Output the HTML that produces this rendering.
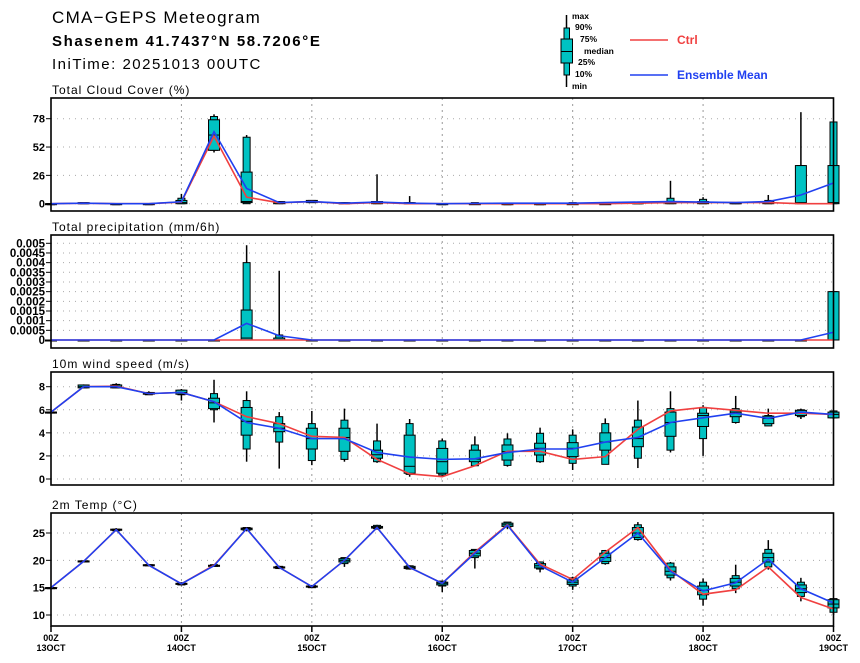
<!DOCTYPE html>
<html><head><meta charset="utf-8"><style>
html,body{margin:0;padding:0;background:#fff;}
svg{display:block;font-family:"Liberation Sans",sans-serif;}
</style></head><body>
<svg id="chart" width="860" height="663" viewBox="0 0 860 663" xmlns="http://www.w3.org/2000/svg">
<text x="52" y="23" font-size="17" letter-spacing="1.3">CMA−GEPS Meteogram</text>
<text x="52" y="46" font-size="15" font-weight="bold" letter-spacing="1.6">Shasenem 41.7437°N 58.7206°E</text>
<text x="52" y="69" font-size="15" letter-spacing="1.5">IniTime: 20251013 00UTC</text>
<g font-size="8.5" font-weight="bold">
 <line x1="566.5" y1="15" x2="566.5" y2="87" stroke="#000" stroke-width="1.5"/>
 <rect x="564" y="28" width="5.5" height="47" fill="#00c2c2" stroke="#000"/>
 <rect x="561" y="39" width="11.5" height="24" fill="#00c2c2" stroke="#000"/>
 <line x1="561" y1="51.5" x2="572.5" y2="51.5" stroke="#000"/>
 <text x="572" y="19">max</text><text x="575" y="30">90%</text><text x="580" y="42">75%</text>
 <text x="584" y="54">median</text><text x="578" y="65">25%</text><text x="575" y="77">10%</text><text x="572" y="89">min</text>
 <line x1="630" y1="40" x2="668" y2="40" stroke="#f04040" stroke-width="1.5"/>
 <text x="677" y="44" font-size="12" fill="#f04040">Ctrl</text>
 <line x1="630" y1="75" x2="668" y2="75" stroke="#2040f0" stroke-width="1.5"/>
 <text x="677" y="79" font-size="12" fill="#2040f0">Ensemble Mean</text>
</g>
</svg>
<script>
// ---- Cloud cover (%) ----
const cloudMin=[0,0,0,0,0,47,0,0,1,0,0,0,0,0,0,0,0,0,0,0,0,0,0,0,0];
const cloudP10=[0,0,0,0,0,49,0,0,1,0,0,0,0,0,0,0,0,0,0,0,0,0,0,0,0];
const cloudP25=[0,0,0,0,0,49,1,0,1,0,0,0,0,0,0,0,0,0,0,0,0,0,0,0,0];
const cloudMed=[0,0,0,0,1,63,2,1,2,0,1,0,0,0,0,0,0,0,0,1,1,0,1,1,1];
const cloudP75=[0,1,0,0,3,77,29,2,3,1,2,1,0,0,0,0,0,0,1,2,2,1,2,35,35];
const cloudP90=[0,1,0,0,5,80,61,2,3,1,2,1,0,1,0,0,1,1,1,5,4,1,3,35,75];
const cloudMax=[0,1,0,0,9,82,63,2,3,1,27,7,0,1,0,0,1,1,1,21,6,1,8,84,75];
const cloudCtrl=[0,0.5,0,0,1.5,62,6,0.8,2,0,1,0,0,0,0,0,0,0,0.5,1,1,1,1,0,0];
const cloudMean=[0,0.5,0,0,1.8,66,14,1,2,0.5,1.5,0.5,0,0.3,0.5,0.5,0.5,1,1.5,2,1.5,1,2,8,19];
// ---- Precipitation (mm/6h) ----
const prMin=[0,0,0,0,0,0,0,0,0,0,0,0,0,0,0,0,0,0,0,0,0,0,0,0,0];
const prP10=[0,0,0,0,0,0,0,0,0,0,0,0,0,0,0,0,0,0,0,0,0,0,0,0,0];
const prP25=[0,0,0,0,0,0,0,0,0,0,0,0,0,0,0,0,0,0,0,0,0,0,0,0,0];
const prMed=[0,0,0,0,0,0,0.0001,0,0,0,0,0,0,0,0,0,0,0,0,0,0,0,0,0,0];
const prP75=[0,0,0,0,0,0,0.00155,0.0001,0,0,0,0,0,0,0,0,0,0,0,0,0,0,0,0,0.0025];
const prP90=[0,0,0,0,0,0,0.004,0.00026,0,0,0,0,0,0,0,0,0,0,0,0,0,0,0,0,0.0025];
const prMax=[0,0,0,0,0,0,0.0049,0.00358,0,0,0,0,0,0,0,0,0,0,0,0,0,0,0,0,0.0025];
const prCtrl=[0,0,0,0,0,0,0,0,0,0,0,0,0,0,0,0,0,0,0,0,0,0,0,0,0];
const prMean=[0,0,0,0,0,0,0.00086,0.00022,0,0,0,0,0,0,0,0,0,0,0,0,0,0,0,0,0.0004];
// ---- 10m wind speed (m/s) ----
const wMin=[5.8,7.9,7.9,7.3,6.8,4.9,1.5,0.9,1.2,1.5,1.4,0.2,0.2,1.1,1.07,1.4,0.78,1.27,0.95,2.3,2.0,4.8,4.6,5.2,5.2];
const wP10=[5.8,7.9,7.9,7.3,7.3,6.0,2.6,3.2,1.6,1.7,1.5,0.4,0.35,1.15,1.18,1.5,1.36,1.27,1.8,2.5,3.5,4.9,4.6,5.4,5.3];
const wP25=[5.8,7.9,7.9,7.35,7.35,6.1,3.8,4.1,2.6,2.4,1.8,0.5,0.5,1.5,1.64,2.08,1.94,2.5,2.8,3.7,4.55,5.4,4.8,5.5,5.3];
const wMed=[5.8,8.0,8.0,7.4,7.5,6.6,5.0,4.4,3.5,3.6,2.1,1.1,1.5,1.73,2.37,2.66,2.66,3.2,3.5,4.9,5.5,5.8,5.25,5.8,5.6];
const wP75=[5.8,8.15,8.15,7.5,7.7,7.0,6.2,4.8,4.4,4.4,2.5,3.8,2.65,2.5,2.95,3.1,3.15,4.0,4.5,5.8,5.7,5.95,5.45,5.95,5.8];
const wP90=[5.8,8.15,8.2,7.5,7.7,7.4,6.8,5.4,4.8,5.1,3.3,4.8,3.3,2.95,3.47,3.96,3.8,4.8,5.1,6.1,6.2,6.1,5.5,6.0,5.9];
const wMax=[5.8,8.2,8.3,7.6,7.8,8.6,7.6,5.8,5.9,6.1,4.8,5.2,3.5,3.7,3.96,4.45,4.3,5.25,6.8,7.6,6.4,7.2,6.1,6.1,5.95];
const wCtrl=[5.8,8.0,8.05,7.4,7.5,6.7,5.4,4.8,3.7,3.6,1.7,0.45,0.2,1.15,2.4,2.4,1.7,1.94,4.3,5.9,6.2,5.95,5.7,5.7,5.6];
const wMean=[5.8,8.0,8.0,7.4,7.5,6.7,4.9,4.4,3.5,3.5,2.3,1.9,1.7,1.75,2.3,2.6,2.6,3.2,3.6,4.9,5.3,5.7,5.25,5.8,5.6];
// ---- 2m temperature (°C) ----
const tMin=[15,19.6,25.3,18.9,15.4,18.8,25.3,18.4,14.9,18.8,25.6,18.3,14.2,18.5,25.7,17.8,14.6,19.2,23.6,16.3,11.7,14.0,18.3,12.5,10.0];
const tP10=[15,19.7,25.4,19.0,15.5,18.9,25.5,18.5,15.0,19.4,25.8,18.4,15.3,20.5,26.1,18.4,15.3,19.4,23.8,16.8,12.9,14.8,18.8,13.4,10.5];
const tP25=[15,19.7,25.5,19.0,15.6,18.9,25.6,18.6,15.1,19.7,25.9,18.5,15.5,20.8,26.2,18.6,15.6,19.8,24.2,17.3,13.7,15.3,19.7,14.1,11.3];
const tMed=[15,19.8,25.6,19.1,15.7,19.0,25.8,18.7,15.2,20.0,26.0,18.7,15.8,21.3,26.5,19.0,16.0,20.5,25.0,18.0,14.5,16.0,20.5,14.8,12.0];
const tP75=[15,19.9,25.7,19.2,15.8,19.1,25.9,18.8,15.3,20.3,26.2,18.9,16.0,21.8,26.8,19.4,16.4,21.3,26.0,18.8,15.3,16.7,21.3,15.5,12.8];
const tP90=[15,19.9,25.7,19.2,15.9,19.2,26.0,18.9,15.4,20.5,26.4,19.0,16.2,22.0,27.0,19.7,16.8,21.8,26.5,19.5,16.0,17.2,22.0,16.0,13.0];
const tMax=[15,20.0,25.9,19.3,16.0,19.3,26.1,19.0,15.5,20.5,26.5,19.1,16.3,22.0,27.0,19.8,17.0,21.9,27.0,19.7,16.7,19.2,23.7,16.8,13.0];
const tCtrl=[15,19.8,25.6,19.1,15.7,19.1,25.8,18.7,15.2,20.0,26.0,18.7,15.8,21.5,26.5,19.3,16.5,21.5,26.0,18.2,13.8,14.6,18.8,13.2,11.1];
const tMean=[15,19.8,25.6,19.1,15.7,19.0,25.8,18.7,15.2,20.0,26.0,18.7,15.8,21.3,26.4,19.0,16.0,20.5,25.0,18.0,14.4,15.9,20.2,14.8,12.2];
// ---- ticks ----
const cloudTicks=[0,26,52,78];
const prTicks=[0,0.0005,0.001,0.0015,0.002,0.0025,0.003,0.0035,0.004,0.0045,0.005];
const prTickLabels=["0","0.0005","0.001","0.0015","0.002","0.0025","0.003","0.0035","0.004","0.0045","0.005"];
const wTicks=[0,2,4,6,8];
const tTicks=[10,15,20,25];
const dayLabels=["13OCT","14OCT","15OCT","16OCT","17OCT","18OCT","19OCT"];

const NS="http://www.w3.org/2000/svg";
const svg=document.getElementById('chart');
const X0=51,X1=833.5,NSTEP=24;
function xs(i){return X0+(X1-X0)*i/NSTEP;}
function mk(tag,attrs,parent){const e=document.createElementNS(NS,tag);for(const k in attrs)e.setAttribute(k,attrs[k]);(parent||svg).appendChild(e);return e;}

function panel(o){
  const g=mk('g',{});
  
  
  const ys=v=>o.y0+(v-o.v0)*(o.y1-o.y0)/(o.v1-o.v0);
  const t=mk('text',{x:52,y:o.top-4,'font-size':12,'letter-spacing':1},g);
  t.textContent=o.title;
  
  
  mk('rect',{x:X0,y:o.top,width:X1-X0,height:o.bot-o.top,fill:'#fff',stroke:'none'},g);
  o.ticks.forEach((v,k)=>{
    const y=ys(v);
    mk('line',{x1:X0,x2:X1,y1:y,y2:y,stroke:'#aaa','stroke-width':1,'stroke-dasharray':'1,5'},g);
    mk('line',{x1:X0-5,x2:X0,y1:y,y2:y,stroke:'#000','stroke-width':1},g);
    const l=mk('text',{x:45,y:y+4,'font-size':o.fs||11,'font-weight':'bold','text-anchor':'end'},g);
    l.textContent=o.labels?o.labels[k]:String(v);
    
    
  });
  for(let d=1;d<6;d++){const x=xs(d*4);mk('line',{x1:x,x2:x,y1:o.top,y2:o.bot,stroke:'#999','stroke-width':1,'stroke-dasharray':'2,4'},g);}
  for(let i=0;i<=NSTEP;i++){
    const x=xs(i);
    const b=mk('g',{},g);
    
    
    mk('line',{x1:x,x2:x,y1:ys(o.d.min[i]),y2:ys(o.d.max[i]),stroke:'#000','stroke-width':1.5},b);
    const a=ys(o.d.p90[i]),c=ys(o.d.p10[i]);
    mk('rect',{x:x-3.5,y:a,width:7,height:Math.max(c-a,1),fill:'#00c2c2',stroke:'#000','stroke-width':1},b);
    const e=ys(o.d.p75[i]),f=ys(o.d.p25[i]);
    mk('rect',{x:x-5.5,y:e,width:11,height:Math.max(f-e,1),fill:'#00c2c2',stroke:'#000','stroke-width':1},b);
    const m=ys(o.d.med[i]);
    mk('line',{x1:x-5.5,x2:x+5.5,y1:m,y2:m,stroke:'#000','stroke-width':1},b);
  }
  const line=(arr,col,nm)=>{const p=mk('polyline',{points:arr.map((v,i)=>xs(i)+','+ys(v)).join(' '),fill:'none',stroke:col,'stroke-width':1.6},g);};
  line(o.d.ctrl,'#f04040',o.name+'-ctrl-line');
  line(o.d.mean,'#2040f0',o.name+'-mean-line');
  mk('rect',{x:X0,y:o.top,width:X1-X0,height:o.bot-o.top,fill:'none',stroke:'#000','stroke-width':1.6},g);
  return g;
}
panel({name:'cloud-panel',title:'Total Cloud Cover (%)',top:98,bot:211,y0:203.7,y1:118.7,v0:0,v1:78,ticks:cloudTicks,
  d:{min:cloudMin,p10:cloudP10,p25:cloudP25,med:cloudMed,p75:cloudP75,p90:cloudP90,max:cloudMax,ctrl:cloudCtrl,mean:cloudMean}});
panel({name:'precip-panel',title:'Total precipitation (mm/6h)',top:235,bot:348,y0:340,y1:243.3,v0:0,v1:0.005,ticks:prTicks,labels:prTickLabels,fs:11.5,
  d:{min:prMin,p10:prP10,p25:prP25,med:prMed,p75:prP75,p90:prP90,max:prMax,ctrl:prCtrl,mean:prMean}});
panel({name:'wind-panel',title:'10m wind speed (m/s)',top:372,bot:485,y0:479,y1:386.7,v0:0,v1:8,ticks:wTicks,
  d:{min:wMin,p10:wP10,p25:wP25,med:wMed,p75:wP75,p90:wP90,max:wMax,ctrl:wCtrl,mean:wMean}});
panel({name:'temp-panel',title:'2m Temp (°C)',top:513,bot:626,y0:533,y1:615,v0:25,v1:10,ticks:tTicks,
  d:{min:tMin,p10:tP10,p25:tP25,med:tMed,p75:tP75,p90:tP90,max:tMax,ctrl:tCtrl,mean:tMean}});
dayLabels.forEach((lab,d)=>{
  const x=xs(d*4);
  mk('line',{x1:x,x2:x,y1:626,y2:632,stroke:'#000','stroke-width':1.5});
  const a=mk('text',{x:x,y:641,'font-size':9,'font-weight':'bold','text-anchor':'middle'});
  a.textContent='00Z';
  
  
  const b=mk('text',{x:x,y:651,'font-size':9,'font-weight':'bold','text-anchor':'middle'});
  b.textContent=lab;
  
  
});
</script>
</body></html>
